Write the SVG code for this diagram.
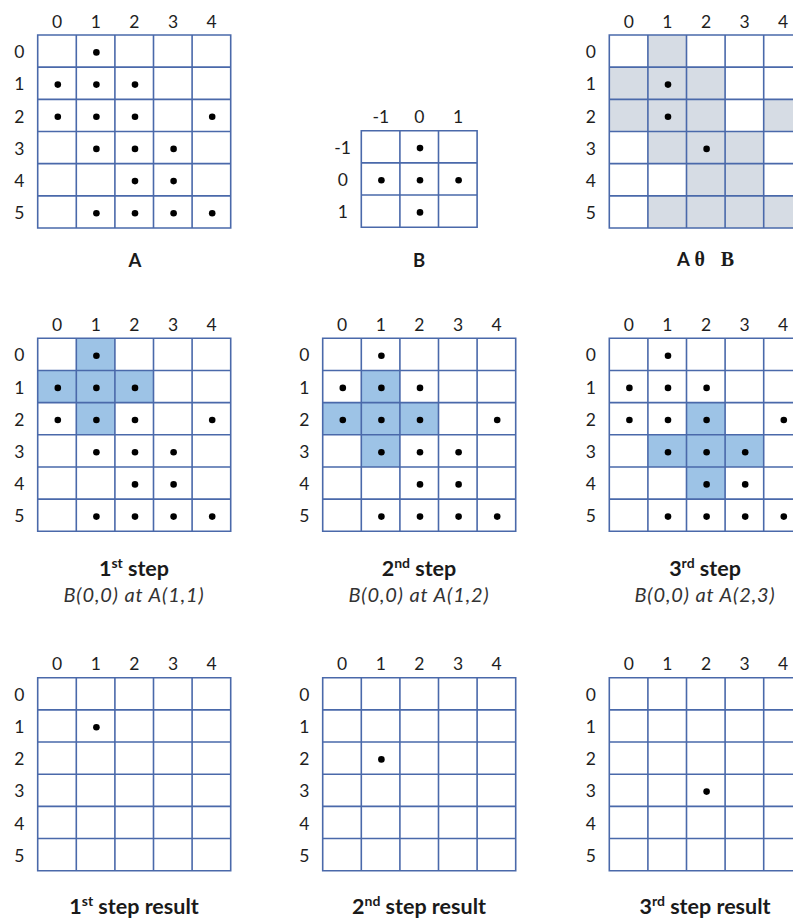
<svg xmlns="http://www.w3.org/2000/svg" xmlns:xlink="http://www.w3.org/1999/xlink" width="793" height="921" viewBox="0 0 793 921">
<style>
.g{fill:none;stroke:#4A69AA;stroke-width:1.6}
.n{font-family:Lato,"Open Sans","Liberation Sans",sans-serif;font-size:17.5px;fill:#1e1e1e;text-anchor:middle}
.t{font-family:Lato,"Open Sans","Liberation Sans",sans-serif;font-weight:bold;font-size:18.5px;fill:#1a1a1a;text-anchor:middle}
.s{font-family:Lato,"Open Sans","Liberation Sans",sans-serif;font-weight:bold;font-size:21.5px;fill:#1a1a1a;text-anchor:middle}
.i{font-family:Lato,"Open Sans","Liberation Sans",sans-serif;font-style:italic;font-size:20px;letter-spacing:0.9px;fill:#333;text-anchor:middle}
.sup{font-size:14px}
.m{font-family:"Liberation Serif",serif;font-weight:bold;font-size:20px}
.gr{fill:#D6DCE4}
.bl{fill:#9DC3E6}
</style>
<defs>
<path id="grid5" class="g" d="M0,0H193V193H0Z M38.6,0V193 M77.2,0V193 M115.8,0V193 M154.4,0V193 M0,32.17H193 M0,64.33H193 M0,96.5H193 M0,128.67H193 M0,160.83H193"/>
<path id="grid3" class="g" d="M0,0H115.8V96.5H0Z M38.6,0V96.5 M77.2,0V96.5 M0,32.17H115.8 M0,64.33H115.8"/>
<circle id="dot" r="3.3" fill="#000"/>
<g id="dotsA">
<use xlink:href="#dot" x="58.7" y="17.4"/>
<use xlink:href="#dot" x="20.1" y="49.6"/><use xlink:href="#dot" x="58.7" y="49.6"/><use xlink:href="#dot" x="97.3" y="49.6"/>
<use xlink:href="#dot" x="20.1" y="81.7"/><use xlink:href="#dot" x="58.7" y="81.7"/><use xlink:href="#dot" x="97.3" y="81.7"/><use xlink:href="#dot" x="174.5" y="81.7"/>
<use xlink:href="#dot" x="58.7" y="113.9"/><use xlink:href="#dot" x="97.3" y="113.9"/><use xlink:href="#dot" x="135.9" y="113.9"/>
<use xlink:href="#dot" x="97.3" y="146.1"/><use xlink:href="#dot" x="135.9" y="146.1"/>
<use xlink:href="#dot" x="58.7" y="178.3"/><use xlink:href="#dot" x="97.3" y="178.3"/><use xlink:href="#dot" x="135.9" y="178.3"/><use xlink:href="#dot" x="174.5" y="178.3"/>
</g>
</defs>
<rect width="793" height="921" fill="#fff"/>

<!-- Grid A -->
<g id="gridA" transform="translate(37.7,35)">
<use xlink:href="#grid5"/>
<use xlink:href="#dotsA"/>
<text class="n" x="19.5" y="-7.3">0</text><text class="n" x="58.1" y="-7.3">1</text><text class="n" x="96.7" y="-7.3">2</text><text class="n" x="135.3" y="-7.3">3</text><text class="n" x="173.9" y="-7.3">4</text>
<text class="n" x="-18.4" y="23.2">0</text><text class="n" x="-18.4" y="55.4">1</text><text class="n" x="-18.4" y="87.5">2</text><text class="n" x="-18.4" y="119.7">3</text><text class="n" x="-18.4" y="151.9">4</text><text class="n" x="-18.4" y="184.1">5</text>
</g>
<text id="labelA" class="t" x="135" y="266.8">A</text>

<!-- Grid B -->
<g id="gridB" transform="translate(361.3,130.7)">
<use xlink:href="#grid3"/>
<use xlink:href="#dot" x="58.7" y="17.4"/>
<use xlink:href="#dot" x="20.1" y="49.6"/><use xlink:href="#dot" x="58.7" y="49.6"/><use xlink:href="#dot" x="97.3" y="49.6"/>
<use xlink:href="#dot" x="58.7" y="81.7"/>
<text class="n" x="19.5" y="-7.3">-1</text><text class="n" x="58.1" y="-7.3">0</text><text class="n" x="96.7" y="-7.3">1</text>
<text class="n" x="-18.8" y="23.2">-1</text><text class="n" x="-18.4" y="55.4">0</text><text class="n" x="-18.4" y="87.5">1</text>
</g>
<text id="labelB" class="t" x="419" y="266.8">B</text>

<!-- Grid A theta B -->
<g id="gridAB" transform="translate(609.3,35)">
<rect class="gr" x="38.6" y="0" width="38.6" height="32.17"/>
<rect class="gr" x="0" y="32.17" width="115.8" height="32.17"/>
<rect class="gr" x="0" y="64.33" width="115.8" height="32.17"/>
<rect class="gr" x="154.4" y="64.33" width="38.6" height="32.17"/>
<rect class="gr" x="38.6" y="96.5" width="115.8" height="32.17"/>
<rect class="gr" x="77.2" y="128.67" width="77.2" height="32.17"/>
<rect class="gr" x="38.6" y="160.83" width="154.4" height="32.17"/>
<use xlink:href="#grid5"/>
<use xlink:href="#dot" x="58.7" y="49.6"/><use xlink:href="#dot" x="58.7" y="81.7"/><use xlink:href="#dot" x="97.3" y="113.9"/>
<text class="n" x="19.5" y="-7.3">0</text><text class="n" x="58.1" y="-7.3">1</text><text class="n" x="96.7" y="-7.3">2</text><text class="n" x="135.3" y="-7.3">3</text><text class="n" x="173.9" y="-7.3">4</text>
<text class="n" x="-18.4" y="23.2">0</text><text class="n" x="-18.4" y="55.4">1</text><text class="n" x="-18.4" y="87.5">2</text><text class="n" x="-18.4" y="119.7">3</text><text class="n" x="-18.4" y="151.9">4</text><text class="n" x="-18.4" y="184.1">5</text>
</g>
<text id="labelAB" class="t" y="265.8"><tspan x="683.5">A</tspan><tspan class="m" x="699.8">θ</tspan><tspan class="m" x="727.5">B</tspan></text>

<!-- Step 1 -->
<g id="step1" transform="translate(37.7,338.3)">
<rect class="bl" x="38.6" y="0" width="38.6" height="32.17"/>
<rect class="bl" x="0" y="32.17" width="115.8" height="32.17"/>
<rect class="bl" x="38.6" y="64.33" width="38.6" height="32.17"/>
<use xlink:href="#grid5"/>
<use xlink:href="#dotsA"/>
<text class="n" x="19.5" y="-7.3">0</text><text class="n" x="58.1" y="-7.3">1</text><text class="n" x="96.7" y="-7.3">2</text><text class="n" x="135.3" y="-7.3">3</text><text class="n" x="173.9" y="-7.3">4</text>
<text class="n" x="-18.4" y="23.2">0</text><text class="n" x="-18.4" y="55.4">1</text><text class="n" x="-18.4" y="87.5">2</text><text class="n" x="-18.4" y="119.7">3</text><text class="n" x="-18.4" y="151.9">4</text><text class="n" x="-18.4" y="184.1">5</text>
</g>
<text class="s" x="134" y="576">1<tspan class="sup" dy="-8">st</tspan><tspan dy="8"> step</tspan></text>
<text class="i" x="134" y="601.5">B(0,0) at A(1,1)</text>

<!-- Step 2 -->
<g id="step2" transform="translate(322.7,338.3)">
<rect class="bl" x="38.6" y="32.17" width="38.6" height="32.17"/>
<rect class="bl" x="0" y="64.33" width="115.8" height="32.17"/>
<rect class="bl" x="38.6" y="96.5" width="38.6" height="32.17"/>
<use xlink:href="#grid5"/>
<use xlink:href="#dotsA"/>
<text class="n" x="19.5" y="-7.3">0</text><text class="n" x="58.1" y="-7.3">1</text><text class="n" x="96.7" y="-7.3">2</text><text class="n" x="135.3" y="-7.3">3</text><text class="n" x="173.9" y="-7.3">4</text>
<text class="n" x="-18.4" y="23.2">0</text><text class="n" x="-18.4" y="55.4">1</text><text class="n" x="-18.4" y="87.5">2</text><text class="n" x="-18.4" y="119.7">3</text><text class="n" x="-18.4" y="151.9">4</text><text class="n" x="-18.4" y="184.1">5</text>
</g>
<text class="s" x="419" y="576">2<tspan class="sup" dy="-8">nd</tspan><tspan dy="8"> step</tspan></text>
<text class="i" x="419" y="601.5">B(0,0) at A(1,2)</text>

<!-- Step 3 -->
<g id="step3" transform="translate(609.3,338.3)">
<rect class="bl" x="77.2" y="64.33" width="38.6" height="32.17"/>
<rect class="bl" x="38.6" y="96.5" width="115.8" height="32.17"/>
<rect class="bl" x="77.2" y="128.67" width="38.6" height="32.17"/>
<use xlink:href="#grid5"/>
<use xlink:href="#dotsA"/>
<text class="n" x="19.5" y="-7.3">0</text><text class="n" x="58.1" y="-7.3">1</text><text class="n" x="96.7" y="-7.3">2</text><text class="n" x="135.3" y="-7.3">3</text><text class="n" x="173.9" y="-7.3">4</text>
<text class="n" x="-18.4" y="23.2">0</text><text class="n" x="-18.4" y="55.4">1</text><text class="n" x="-18.4" y="87.5">2</text><text class="n" x="-18.4" y="119.7">3</text><text class="n" x="-18.4" y="151.9">4</text><text class="n" x="-18.4" y="184.1">5</text>
</g>
<text class="s" x="705" y="576">3<tspan class="sup" dy="-8">rd</tspan><tspan dy="8"> step</tspan></text>
<text class="i" x="705" y="601.5">B(0,0) at A(2,3)</text>

<!-- Result 1 -->
<g id="result1" transform="translate(37.7,677.7)">
<use xlink:href="#grid5"/>
<use xlink:href="#dot" x="58.7" y="49.6"/>
<text class="n" x="19.5" y="-7.3">0</text><text class="n" x="58.1" y="-7.3">1</text><text class="n" x="96.7" y="-7.3">2</text><text class="n" x="135.3" y="-7.3">3</text><text class="n" x="173.9" y="-7.3">4</text>
<text class="n" x="-18.4" y="23.2">0</text><text class="n" x="-18.4" y="55.4">1</text><text class="n" x="-18.4" y="87.5">2</text><text class="n" x="-18.4" y="119.7">3</text><text class="n" x="-18.4" y="151.9">4</text><text class="n" x="-18.4" y="184.1">5</text>
</g>
<text class="s" x="134" y="914">1<tspan class="sup" dy="-8">st</tspan><tspan dy="8"> step result</tspan></text>

<!-- Result 2 -->
<g id="result2" transform="translate(322.7,677.7)">
<use xlink:href="#grid5"/>
<use xlink:href="#dot" x="58.7" y="81.7"/>
<text class="n" x="19.5" y="-7.3">0</text><text class="n" x="58.1" y="-7.3">1</text><text class="n" x="96.7" y="-7.3">2</text><text class="n" x="135.3" y="-7.3">3</text><text class="n" x="173.9" y="-7.3">4</text>
<text class="n" x="-18.4" y="23.2">0</text><text class="n" x="-18.4" y="55.4">1</text><text class="n" x="-18.4" y="87.5">2</text><text class="n" x="-18.4" y="119.7">3</text><text class="n" x="-18.4" y="151.9">4</text><text class="n" x="-18.4" y="184.1">5</text>
</g>
<text class="s" x="419" y="914">2<tspan class="sup" dy="-8">nd</tspan><tspan dy="8"> step result</tspan></text>

<!-- Result 3 -->
<g id="result3" transform="translate(609.3,677.7)">
<use xlink:href="#grid5"/>
<use xlink:href="#dot" x="97.3" y="113.9"/>
<text class="n" x="19.5" y="-7.3">0</text><text class="n" x="58.1" y="-7.3">1</text><text class="n" x="96.7" y="-7.3">2</text><text class="n" x="135.3" y="-7.3">3</text><text class="n" x="173.9" y="-7.3">4</text>
<text class="n" x="-18.4" y="23.2">0</text><text class="n" x="-18.4" y="55.4">1</text><text class="n" x="-18.4" y="87.5">2</text><text class="n" x="-18.4" y="119.7">3</text><text class="n" x="-18.4" y="151.9">4</text><text class="n" x="-18.4" y="184.1">5</text>
</g>
<text class="s" x="705" y="914">3<tspan class="sup" dy="-8">rd</tspan><tspan dy="8"> step result</tspan></text>
</svg>
